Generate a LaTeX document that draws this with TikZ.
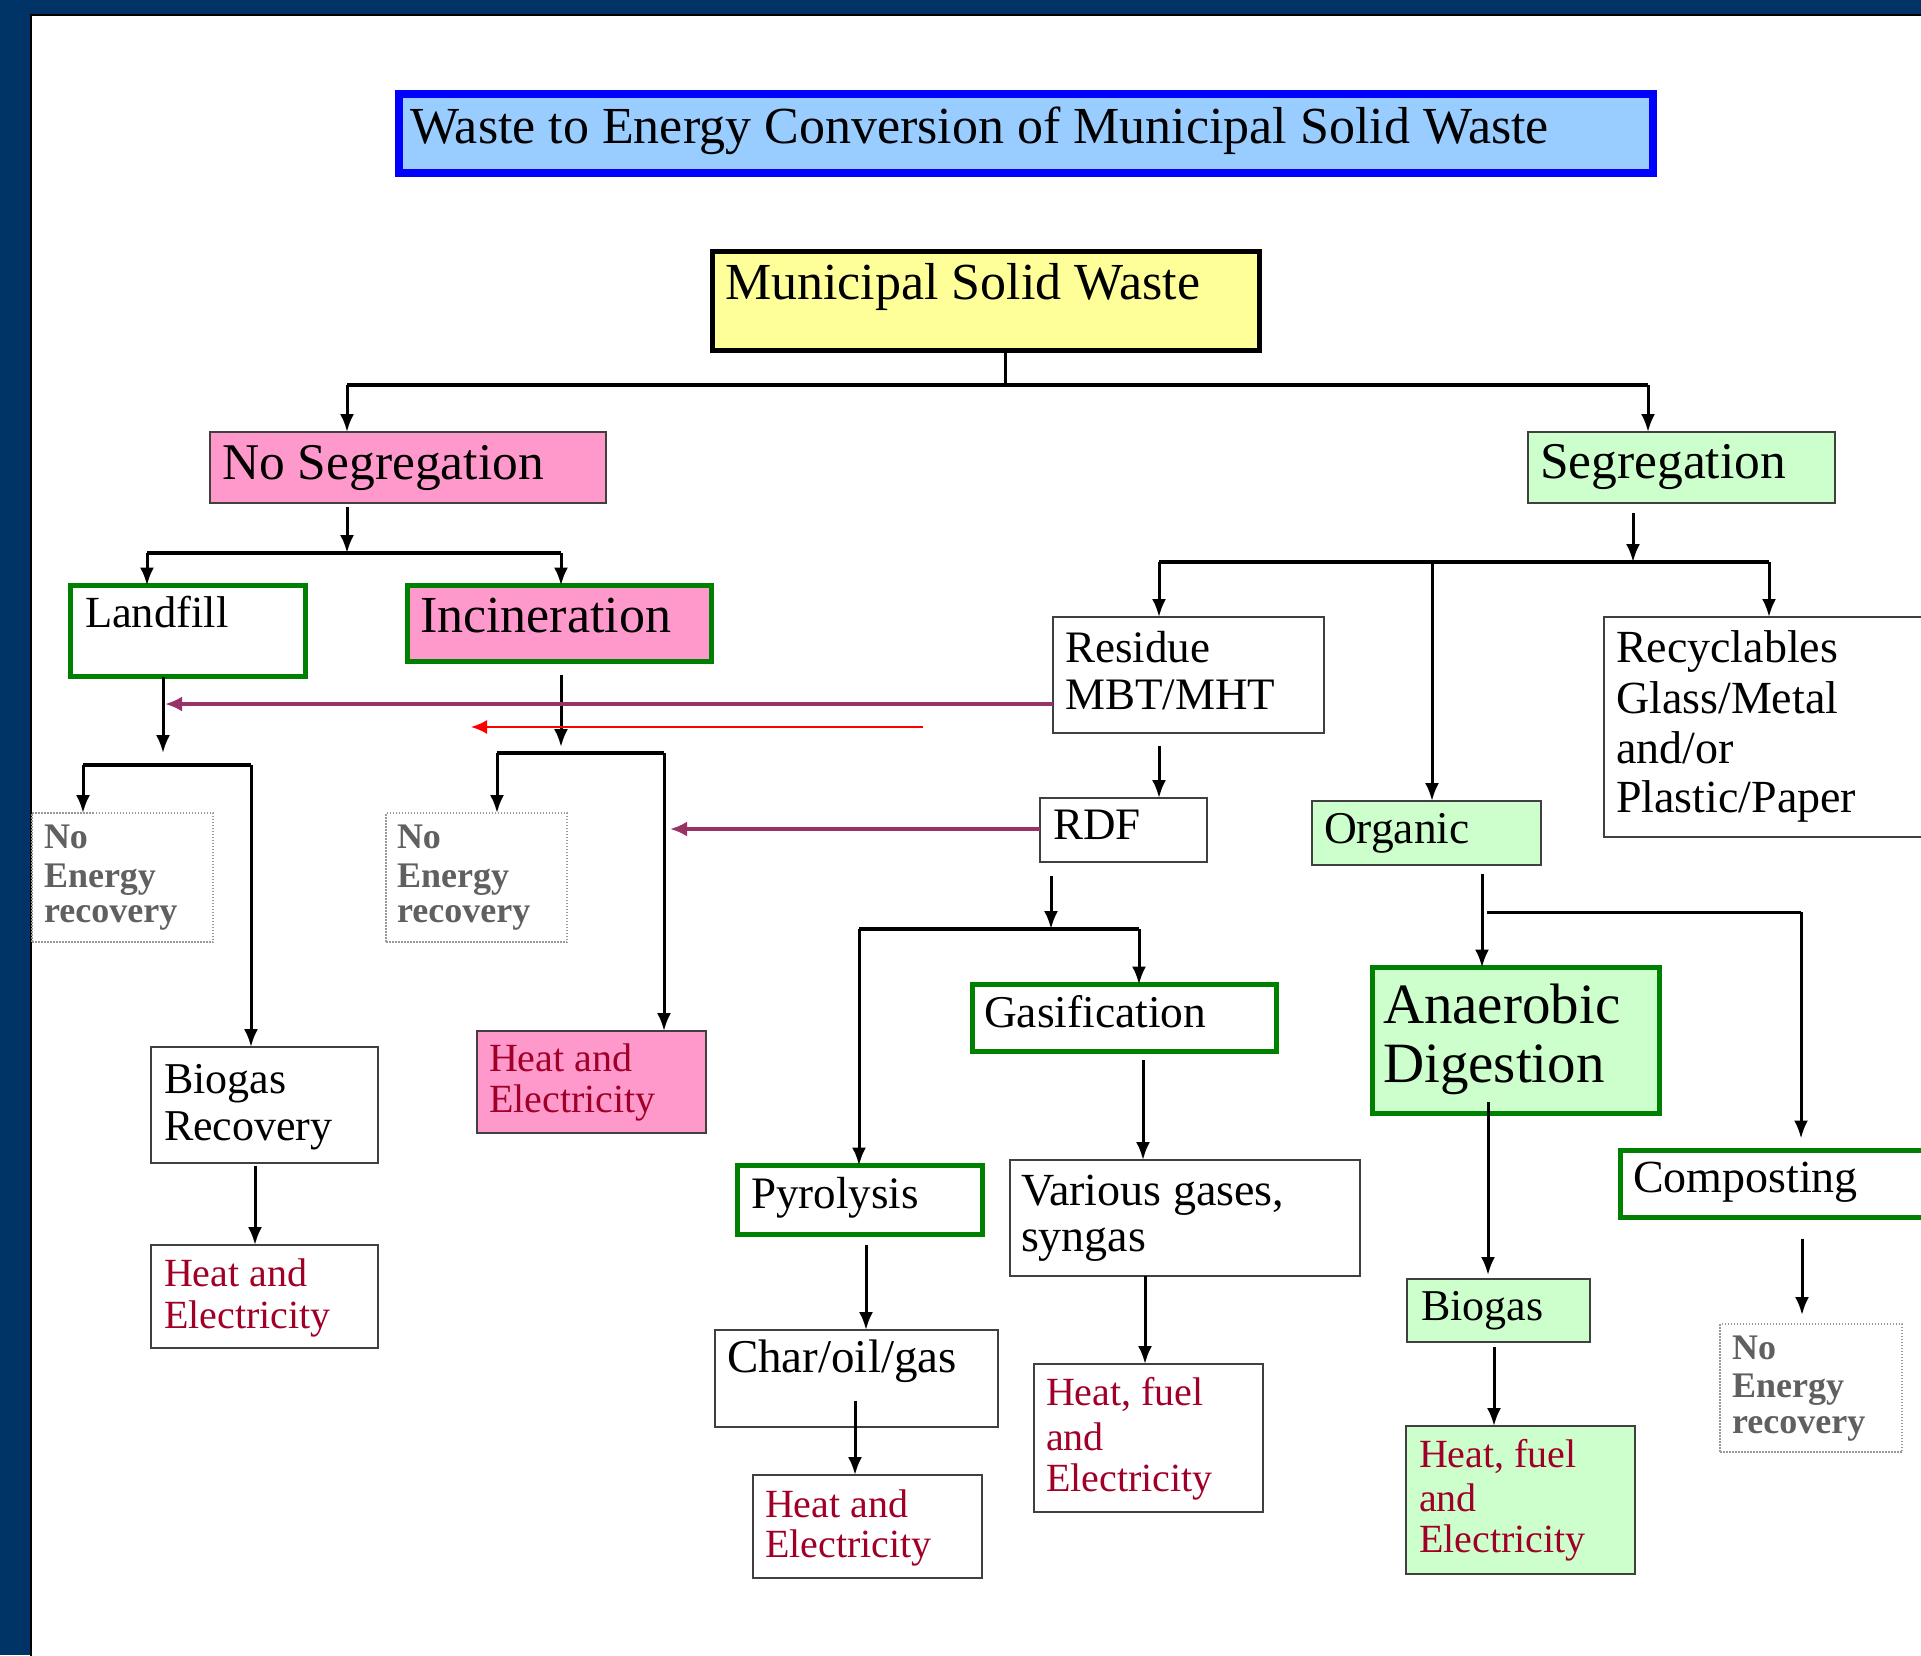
\documentclass[tikz,border=0pt]{standalone}
\usepackage{fontspec}
\setmainfont{Liberation Serif}
\usetikzlibrary{arrows.meta,calc}
\definecolor{navy}{HTML}{003366}
\definecolor{tblue}{HTML}{99CCFF}
\definecolor{tborder}{HTML}{0000FF}
\definecolor{myellow}{HTML}{FFFF99}
\definecolor{mpink}{HTML}{FF99CC}
\definecolor{mgreen}{HTML}{CCFFCC}
\definecolor{dgreen}{HTML}{008000}
\definecolor{plum}{HTML}{993366}
\definecolor{dred}{HTML}{A00028}
\definecolor{ngray}{HTML}{606060}
\definecolor{bgray}{HTML}{404040}
\newcommand\fsz[1]{\fontsize{#1}{#1}\selectfont}
\newcommand\mkbox[6]{\node[#2, minimum width={(#5-#3)*1pt}, minimum height={(#6-#4)*1pt}] (#1) at ({(#3+#5)/2},{(#4+#6)/2}) {};}
\tikzset{
  bx/.style={draw=bgray, line width=2pt, inner sep=0pt, outer sep=0pt, rectangle},
  gbx/.style={draw=dgreen, line width=5pt, inner sep=0pt, outer sep=0pt, rectangle},
  nebx/.style={draw=black!40, dash pattern=on 1.5pt off 1.5pt, line width=1.5pt, fill=white, inner sep=0pt, outer sep=0pt, rectangle},
  txt/.style={anchor=base west, inner sep=0pt, outer sep=0pt},
  redtxt/.style={txt, text=dred, font=\fsz{40}},
  netxt/.style={txt, text=ngray, font=\fsz{36}\bfseries},
  conn/.style={line width=3pt},
  bus/.style={line width=4.5pt},
  arr/.style={conn, -{Latex[length=18pt,width=14pt]}},
  plumarr/.style={draw=plum, line width=3.3pt, -{Latex[length=17pt,width=15pt]}},
  redarr/.style={draw=red, line width=2pt, -{Latex[length=16pt,width=14pt]}},
}
\begin{document}
\begin{tikzpicture}[x=1pt,y=-1pt]
\useasboundingbox (0,0) rectangle (1921,1655);
\clip (0,0) rectangle (1921,1655);
% background
\fill[navy] (0,0) rectangle (1921,1655);
\draw[fill=white, draw=black, line width=1.5pt] (31,15) rectangle (1930,1665);

% title
\mkbox{title}{draw=tborder, fill=tblue, line width=8pt, inner sep=0pt, rectangle}{399}{94}{1653}{173}
\node[txt, font=\fsz{52}] (ttitle) at (410,143) {Waste to Energy Conversion of Municipal Solid Waste};

% boxes
\mkbox{msw}{draw=black, fill=myellow, line width=5pt, inner sep=0pt, outer sep=0pt, rectangle}{712.5}{251.5}{1259.5}{350.5}
\mkbox{nos}{bx, fill=mpink}{210}{432}{606}{503}
\mkbox{seg}{bx, fill=mgreen}{1528}{432}{1835}{503}
\mkbox{land}{gbx, fill=white}{70.5}{585.5}{305.5}{676.5}
\mkbox{inc}{gbx, fill=mpink}{407.5}{585.5}{711.5}{661.5}
\mkbox{ne1}{nebx}{32}{813}{213}{942}
\mkbox{ne2}{nebx}{386}{813}{567}{942}
\mkbox{bgr}{bx, fill=white}{151}{1047}{378}{1163}
\mkbox{he1}{bx, fill=white}{151}{1245}{378}{1348}
\mkbox{he2}{bx, fill=mpink}{477}{1031}{706}{1133}
\mkbox{res}{bx, fill=white}{1053}{617}{1324}{733}
\mkbox{rdf}{bx, fill=white}{1040}{798}{1207}{862}
\mkbox{rec}{bx, fill=white}{1604}{617}{1945}{837}
\mkbox{org}{bx, fill=mgreen}{1312}{801}{1541}{865}
\mkbox{gas}{gbx, fill=white}{972.5}{984.5}{1276.5}{1051.5}
\mkbox{pyr}{gbx, fill=white}{737.5}{1165.5}{982.5}{1234.5}
\mkbox{var}{bx, fill=white}{1010}{1160}{1360}{1276}
\mkbox{hf1}{bx, fill=white}{1034}{1364}{1263}{1512}
\mkbox{chr}{bx, fill=white}{715}{1330}{998}{1427}
\mkbox{he3}{bx, fill=white}{753}{1475}{982}{1578}
\mkbox{ad}{gbx, fill=mgreen}{1372.5}{967.5}{1659.5}{1113.5}
\mkbox{bio}{bx, fill=mgreen}{1407}{1279}{1590}{1342}
\mkbox{hf2}{bx, fill=mgreen}{1406}{1426}{1635}{1574}
\mkbox{cmp}{gbx, fill=white}{1620.5}{1150.5}{1945}{1217.5}
\mkbox{ne3}{nebx}{1720}{1324}{1902}{1452}

% texts
\node[txt, font=\fsz{52}] (tmsw) at (725,299) {Municipal Solid Waste};
\node[txt, font=\fsz{51.5}] (tnos) at (222,479) {No Segregation};
\node[txt, font=\fsz{51.5}] (tseg) at (1540,478) {Segregation};
\node[txt, font=\fsz{44.5}] (tland) at (85,627) {Landfill};
\node[txt, font=\fsz{52}] (tinc) at (420,632) {Incineration};
\node[netxt] (tne1a) at (44,848) {No};
\node[netxt] (tne1b) at (44,887) {Energy};
\node[netxt] (tne1c) at (44,922) {recovery};
\node[netxt] (tne2a) at (397,848) {No};
\node[netxt] (tne2b) at (397,887) {Energy};
\node[netxt] (tne2c) at (397,922) {recovery};
\node[txt, font=\fsz{44}] (tbgra) at (164,1093) {Biogas};
\node[txt, font=\fsz{44}] (tbgrb) at (164,1140) {Recovery};
\node[redtxt] (the1a) at (164,1286) {Heat and};
\node[redtxt] (the1b) at (164,1328) {Electricity};
\node[redtxt] (the2a) at (489,1071) {Heat and};
\node[redtxt] (the2b) at (489,1112) {Electricity};
\node[txt, font=\fsz{45}] (tresa) at (1065,662) {Residue};
\node[txt, font=\fsz{45}] (tresb) at (1065,709) {MBT/MHT};
\node[txt, font=\fsz{45}] (trdf) at (1053,839) {RDF};
\node[txt, font=\fsz{46}] (treca) at (1616,662) {Recyclables};
\node[txt, font=\fsz{46}] (trecb) at (1616,713) {Glass/Metal};
\node[txt, font=\fsz{46}] (trecc) at (1616,763) {and/or};
\node[txt, font=\fsz{46}] (trecd) at (1616,812) {Plastic/Paper};
\node[txt, font=\fsz{45.5}] (torg) at (1324,843) {Organic};
\node[txt, font=\fsz{45.5}] (tgas) at (984,1027) {Gasification};
\node[txt, font=\fsz{45}] (tpyr) at (751,1208) {Pyrolysis};
\node[txt, font=\fsz{46}] (tvara) at (1021,1205) {Various gases,};
\node[txt, font=\fsz{46}] (tvarb) at (1021,1251) {syngas};
\node[redtxt] (thf1a) at (1046,1405) {Heat, fuel};
\node[redtxt] (thf1b) at (1046,1450) {and};
\node[redtxt] (thf1c) at (1046,1491) {Electricity};
\node[txt, font=\fsz{47}] (tchr) at (727,1372) {Char/oil/gas};
\node[redtxt] (the3a) at (765,1517) {Heat and};
\node[redtxt] (the3b) at (765,1557) {Electricity};
\node[txt, font=\fsz{57}] (tada) at (1383,1023) {Anaerobic};
\node[txt, font=\fsz{57}] (tadb) at (1383,1082) {Digestion};
\node[txt, font=\fsz{44}] (tbio) at (1421,1320) {Biogas};
\node[redtxt] (thf2a) at (1419,1467) {Heat, fuel};
\node[redtxt] (thf2b) at (1419,1511) {and};
\node[redtxt] (thf2c) at (1419,1552) {Electricity};
\node[txt, font=\fsz{46}] (tcmp) at (1633,1192) {Composting};
\node[netxt] (tne3a) at (1732,1359) {No};
\node[netxt] (tne3b) at (1732,1397) {Energy};
\node[netxt] (tne3c) at (1732,1433) {recovery};

% connectors: MSW
\coordinate (b1) at (1005,385);
\coordinate (b1l) at (347,385);
\coordinate (b1r) at (1648,385);
\draw[conn] (msw.south -| b1) -- (b1);
\draw[bus] (b1l) -- (b1r);
\draw[arr] (b1l) -- (nos.north -| b1l);
\draw[arr] (b1r) -- (seg.north -| b1r);

% No segregation
\coordinate (b2) at (347,553);
\coordinate (b2l) at (147,553);
\coordinate (b2r) at (561,553);
\draw[arr, shorten <=4pt] (nos.south -| b2) -- (b2);
\draw[bus] (b2l) -- (b2r);
\draw[arr] (b2l) -- (land.north -| b2l);
\draw[arr] (b2r) -- (inc.north -| b2r);

% Landfill
\coordinate (l3tip) at (163,753);
\coordinate (b3l) at (83,765);
\coordinate (b3r) at (251,765);
\draw[arr] (land.south -| l3tip) -- (l3tip);
\draw[bus] (b3l) -- (b3r);
\draw[arr] (b3l) -- (ne1.north -| b3l);
\draw[arr] (b3r) -- (bgr.north -| b3r);
\coordinate (x1) at (255,0);
\draw[arr, shorten <=3pt] (bgr.south -| x1) -- (he1.north -| x1);

% Incineration
\coordinate (i4tip) at (561,747);
\coordinate (b4l) at (497,753);
\coordinate (b4r) at (664,753);
\draw[arr, shorten <=13pt] (inc.south -| i4tip) -- (i4tip);
\draw[bus] (b4l) -- (b4r);
\draw[arr] (b4l) -- (ne2.north -| b4l);
\draw[arr] (b4r) -- (he2.north -| b4r);

% cross links
\coordinate (m1) at (165,704);
\draw[plumarr] (res.west |- m1) -- (m1);
\coordinate (r1s) at (923,727);
\coordinate (r1e) at (471,727);
\draw[redarr] (r1s) -- (r1e);
\coordinate (m2) at (670,829);
\draw[plumarr] (rdf.west |- m2) -- (m2);

% Segregation
\coordinate (b5) at (1633,562);
\coordinate (b5l) at (1159,562);
\coordinate (b5m) at (1432,562);
\coordinate (b5r) at (1769,562);
\draw[arr, shorten <=10pt] (seg.south -| b5) -- (b5);
\draw[bus] (b5l) -- (b5r);
\draw[arr] (b5l) -- (res.north -| b5l);
\draw[arr] (b5m) -- (org.north -| b5m);
\draw[arr] (b5r) -- (rec.north -| b5r);
\draw[arr, shorten <=13pt] (res.south -| b5l) -- (rdf.north -| b5l);

% RDF
\coordinate (b6) at (1051,929);
\coordinate (b6l) at (859,929);
\coordinate (b6r) at (1139,929);
\draw[arr, shorten <=14pt] (rdf.south -| b6) -- (b6);
\draw[bus] (b6l) -- (b6r);
\draw[arr] (b6l) -- (pyr.north -| b6l);
\draw[arr] (b6r) -- (gas.north -| b6r);
\coordinate (x2) at (1143,0);
\draw[arr, shorten <=8pt] (gas.south -| x2) -- (var.north -| x2);
\coordinate (x3) at (1145,0);
\draw[arr] (var.south -| x3) -- (hf1.north -| x3);
\coordinate (x4) at (866,0);
\draw[arr, shorten <=10pt] (pyr.south -| x4) -- (chr.north -| x4);
\coordinate (c5) at (855,1401);
\draw[arr] (c5) -- (he3.north -| c5);

% Organic
\coordinate (x6) at (1482,0);
\coordinate (b7l) at (1487,912);
\coordinate (b7r) at (1801,912);
\draw[arr, shorten <=9pt] (org.south -| x6) -- (ad.north -| x6);
\draw[conn] (b7l) -- (b7r);
\draw[arr, shorten >=12pt] (b7r) -- (cmp.north -| b7r);
\coordinate (c7) at (1488,1102);
\draw[arr, shorten >=4pt] (c7) -- (bio.north -| c7);
\coordinate (x8) at (1494,0);
\draw[arr, shorten <=5pt] (bio.south -| x8) -- (hf2.north -| x8);
\coordinate (x9) at (1802,0);
\draw[arr, shorten <=21pt, shorten >=9pt] (cmp.south -| x9) -- (ne3.north -| x9);
\end{tikzpicture}
\end{document}
